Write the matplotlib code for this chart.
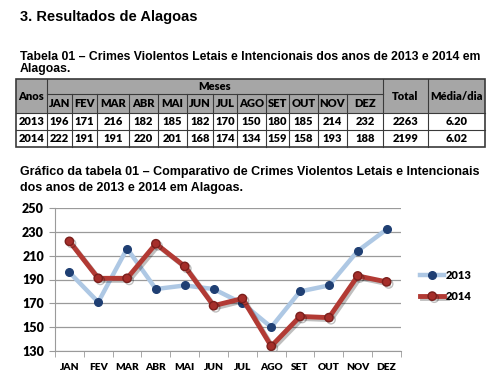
import matplotlib
matplotlib.use("Agg")
import matplotlib.pyplot as plt
import matplotlib.patheffects as pe
from matplotlib.patches import Rectangle

meses = ["JAN", "FEV", "MAR", "ABR", "MAI", "JUN", "JUL", "AGO", "SET", "OUT", "NOV", "DEZ"]
anos = ["2013", "2014"]
v2013 = [196, 171, 216, 182, 185, 182, 170, 150, 180, 185, 214, 232]
v2014 = [222, 191, 191, 220, 201, 168, 174, 134, 159, 158, 193, 188]
totais = ["2263", "2199"]
medias = ["6.20", "6.02"]
yticks = [130, 150, 170, 190, 210, 230, 250]

titulo = "3. Resultados de Alagoas"
tab_titulo = ["Tabela 01 \u2013 Crimes Violentos Letais e Intencionais dos anos de 2013 e 2014 em",
              "Alagoas."]
graf_titulo = ["Gr\u00e1fico da tabela 01 \u2013 Comparativo de Crimes Violentos Letais e Intencionais",
               "dos anos de 2013 e 2014 em Alagoas."]

fig = plt.figure(figsize=(5, 3.73), dpi=100)

# page layer in pixel coordinates
pg = fig.add_axes([0, 0, 1, 1])
pg.set_xlim(0, 500)
pg.set_ylim(373, 0)
pg.axis("off")

hfont = dict(family="Liberation Sans", weight="bold", color="black")
pg.text(20, 17, titulo, fontsize=10.5, va="center", **hfont)
pg.text(20, 57, tab_titulo[0], fontsize=8.8, va="center", **hfont)
pg.text(20, 69, tab_titulo[1], fontsize=8.8, va="center", **hfont)
pg.text(20, 172, graf_titulo[0], fontsize=9.0, va="center", **hfont)
pg.text(20, 188, graf_titulo[1], fontsize=9.0, va="center", **hfont)

# table
cols = [16, 47, 72, 97, 129, 158, 187, 213, 237, 266, 289, 318, 347, 383, 428, 485]
rows = [79, 94, 113, 130, 147]
gray = "#a6a6a6"
edge = "#3a3a3a"
tfont = dict(family="Lato", weight="heavy", fontsize=8, color="black",
             ha="center", va="center")

pg.add_patch(Rectangle((cols[0], rows[0]), cols[-1] - cols[0], rows[2] - rows[0],
                       facecolor=gray, edgecolor="none"))
lw = 0.8
pg.add_patch(Rectangle((cols[0], rows[0]), cols[-1] - cols[0], rows[-1] - rows[0],
                       facecolor="none", edgecolor=edge, lw=1.2))
for r in rows[2:-1]:
    pg.plot([cols[0], cols[-1]], [r, r], color=edge, lw=lw)
pg.plot([cols[1], cols[13]], [rows[1], rows[1]], color=edge, lw=lw)
for i, c in enumerate(cols[1:-1], start=1):
    top = rows[1] if 2 <= i <= 12 else rows[0]
    pg.plot([c, c], [top, rows[-1]], color=edge, lw=lw)

pg.text((cols[0] + cols[1]) / 2, (rows[0] + rows[2]) / 2, "Anos", **tfont)
pg.text((cols[1] + cols[13]) / 2, (rows[0] + rows[1]) / 2, "Meses", **tfont)
pg.text((cols[13] + cols[14]) / 2, (rows[0] + rows[2]) / 2, "Total", **tfont)
pg.text((cols[14] + cols[15]) / 2, (rows[0] + rows[2]) / 2, "M\u00e9dia/dia", **tfont)
for j, m in enumerate(meses):
    pg.text((cols[j + 1] + cols[j + 2]) / 2, (rows[1] + rows[2]) / 2, m, **tfont)
for i, (ano, vals) in enumerate(zip(anos, [v2013, v2014])):
    yc = (rows[2 + i] + rows[3 + i]) / 2
    pg.text((cols[0] + cols[1]) / 2, yc, ano, **tfont)
    for j, v in enumerate(vals):
        pg.text((cols[j + 1] + cols[j + 2]) / 2, yc, str(v), **tfont)
    pg.text((cols[13] + cols[14]) / 2, yc, totais[i], **tfont)
    pg.text((cols[14] + cols[15]) / 2, yc, medias[i], **tfont)

# chart
ax = fig.add_axes([55 / 500, 1 - 351 / 373, 346 / 500, 143 / 373])
x = list(range(len(meses)))
shadow = [pe.SimpleLineShadow(offset=(1.5, -1.5), alpha=0.25), pe.Normal()]
ax.plot(x, v2013, color="#aec8e4", lw=3.2, marker="o", ms=5.5,
        mfc="#1f3f73", mec="#1f3f73", label="2013", zorder=3)
ax.plot(x, v2014, color="#b23a34", lw=3.5, marker="o", ms=6,
        mfc="#a52e2a", mec="#7a1f1c", label="2014", zorder=4,
        path_effects=shadow)

ax.set_xlim(-0.5, 11.5)
ax.set_ylim(130, 250)
ax.set_yticks(yticks)
ax.set_xticks(x)
ax.set_xticklabels(meses)
ax.set_xticks([i - 0.5 for i in range(13)], minor=True)
ax.grid(axis="y", color="#9a9a9a", lw=0.9)
ax.set_axisbelow(True)
for s in ["top", "right"]:
    ax.spines[s].set_visible(False)
for s in ["left", "bottom"]:
    ax.spines[s].set_color("#9a9a9a")
ax.tick_params(axis="x", which="major", length=0, pad=9)
ax.tick_params(axis="x", which="minor", length=4, color="#9a9a9a")
ax.tick_params(axis="y", length=4, color="#9a9a9a", pad=4)
for lab in ax.get_xticklabels():
    lab.set_fontfamily("Lato")
    lab.set_fontweight("heavy")
    lab.set_fontsize(7.3)
for lab in ax.get_yticklabels():
    lab.set_fontfamily("Lato")
    lab.set_fontweight("heavy")
    lab.set_fontsize(9)

leg = ax.legend(loc="center left", bbox_to_anchor=(410 / 500, 1 - 286 / 373),
                bbox_transform=fig.transFigure, frameon=False,
                handlelength=2.2, handletextpad=0.1, labelspacing=0.9,
                prop=dict(family="Lato", weight="heavy", size=8))

fig.savefig("out.png", dpi=100)
